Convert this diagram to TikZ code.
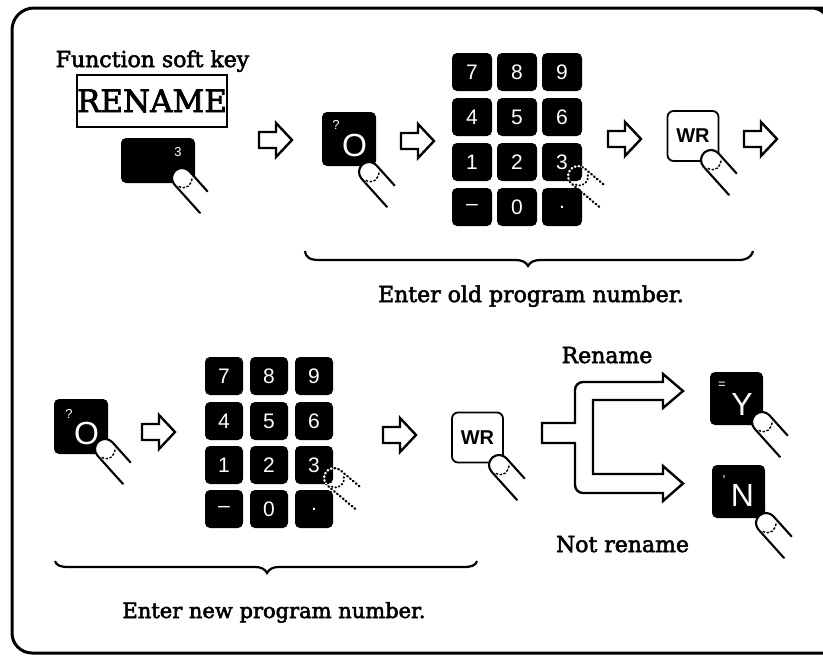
\documentclass[tikz,border=0pt]{standalone}
\usepackage{fontspec}
\setmainfont{DejaVu Serif}
\newfontfamily\capfont{DejaVu Serif}[FakeBold=2.5]
\newfontfamily\keyfont{Liberation Sans}
\usetikzlibrary{calc}
\tikzset{
  darkkey/.style={fill=black, rounded corners=5pt, inner sep=0pt, text=white,
    font=\keyfont\fontsize{21}{21}\selectfont},
  padkey/.style={darkkey, minimum width=40pt, minimum height=38pt},
  padkeyb/.style={darkkey, minimum width=38pt, minimum height=38pt},
  lightkey/.style={draw=black, line width=1.8pt, fill=white, rounded corners=6pt,
    minimum width=51pt, minimum height=50pt, inner sep=0pt,
    font=\keyfont\bfseries\fontsize{20}{20}\selectfont},
  bigchar/.style={text=white, inner sep=0pt, font=\keyfont\fontsize{32}{32}\selectfont},
  smallchar/.style={text=white, inner sep=0pt, font=\keyfont\fontsize{13}{13}\selectfont},
  caption/.style={anchor=base, inner sep=0pt, font=\capfont\fontsize{22}{22}\selectfont},
  outline/.style={line width=2.4pt, line join=miter},
  fingertip/.pic={
    \fill[white] (-10,-38) -- (-10,0) arc[start angle=180, end angle=0, radius=10pt] -- (10,-27) -- cycle;
    \draw[line width=2.1pt, line cap=round] (-10,-38) -- (-10,0)
      arc[start angle=180, end angle=0, radius=10pt] -- (10,-27);
    \draw[line width=1.4pt, dash pattern=on 2.5pt off 1.5pt] (-8,-4) .. controls (-5,-12) and (3,-12) .. (8,-6);
  },
  dotfinger/.pic={
    \draw[#1, line width=2.3pt, line cap=round, dash pattern=on 0.8pt off 3pt] (-10,-36) -- (-10,0)
      arc[start angle=180, end angle=0, radius=10pt] -- (10,-26);
    \draw[#1, line width=2pt, line cap=round, dash pattern=on 0.6pt off 3pt] (-8,-4) .. controls (-5,-12) and (3,-12) .. (8,-6);
  },
  openarrow/.pic={
    \draw[outline] (0,8) -- (17,8) -- (17,17) -- (33,0) -- (17,-17) -- (17,-8) -- (0,-8) -- cycle;
  },
}
\begin{document}
\begin{tikzpicture}[x=1pt,y=1pt]
\useasboundingbox (0,0) rectangle (823,-656);
\clip (0,0) rectangle (823,-656);

% outer frame, open on the right where it leaves the page
\draw[line width=3pt] (850,-8) -- (812,-8) to[out=0,in=90] (830,-28)
  (850,-8) -- (34,-8) to[out=180,in=90] (12,-30) -- (12,-633)
  to[out=-90,in=180] (32,-653) -- (850,-653);

% ---------- upper row: old program number ----------
\node[caption] (fsk) at (152.5,-67) {Function soft key};
\node[draw, line width=1.2pt, minimum width=150pt, minimum height=52pt, inner sep=0pt,
      font=\capfont\fontsize{31}{31}\selectfont] (rename) at (152,-101) {RENAME};

\node[darkkey, minimum width=74pt, minimum height=45pt] (softkey) at (158,-160.5) {};
\node[smallchar] (softnum) at (178,-152) {3};
\pic[rotate=42] at (182,-178) {fingertip};

\pic at (259,-140) {openarrow};

\node[darkkey, minimum width=54pt, minimum height=54pt] (oldO) at (349,-139) {};
\node[smallchar] (oldOq) at (336,-125) {?};
\node[bigchar] (oldOc) at (354.5,-145) {O};
\pic[rotate=42] at (369,-172) {fingertip};

\pic at (401,-141) {openarrow};

\node[padkey] (t7) at (472,-72) {7};
\node[padkey] (t8) at (517,-72) {8};
\node[padkey] (t9) at (562,-72) {9};
\node[padkey] (t4) at (472,-117) {4};
\node[padkey] (t5) at (517,-117) {5};
\node[padkey] (t6) at (562,-117) {6};
\node[padkey] (t1) at (472,-162) {1};
\node[padkey] (t2) at (517,-162) {2};
\node[padkey] (t3) at (562,-162) {3};
\node[padkey] (tm) at (472,-207) {–};
\node[padkey] (t0) at (517,-207) {0};
\node[padkey] (tp) at (562,-207) {.};
\pic[rotate=50] at (578,-176) {dotfinger=black};
\begin{scope}
  \clip[rounded corners=5pt] (t3.south west) rectangle (t3.north east);
  \pic[rotate=50] at (578,-176) {dotfinger=white};
\end{scope}

\pic at (608,-139) {openarrow};

\node[lightkey] (wrA) at (693,-136) {WR};
\pic[rotate=42] at (711,-160) {fingertip};

\pic at (744,-139) {openarrow};

\draw[line width=2.2pt] (305,-251) .. controls (306,-258) and (310,-260) .. (320,-260)
  -- (515,-260) .. controls (522,-260) and (526,-262) .. (528,-266)
  .. controls (530,-262) and (534,-260) .. (541,-260)
  -- (738,-260) .. controls (746,-260) and (751,-258) .. (753,-251);
\node[caption] (oldcap) at (531,-302) {Enter old program number.};

% ---------- lower row: new program number ----------
\node[darkkey, minimum width=54pt, minimum height=55pt] (newO) at (81,-426.5) {};
\node[smallchar] (newOq) at (69,-414) {?};
\node[bigchar] (newOc) at (86.5,-433.5) {O};
\pic[rotate=42] at (105,-449) {fingertip};

\pic at (142,-432) {openarrow};

\node[padkeyb] (b7) at (224,-376) {7};
\node[padkeyb] (b8) at (269,-376) {8};
\node[padkeyb] (b9) at (314,-376) {9};
\node[padkeyb] (b4) at (224,-421) {4};
\node[padkeyb] (b5) at (269,-421) {5};
\node[padkeyb] (b6) at (314,-421) {6};
\node[padkeyb] (b1) at (224,-465) {1};
\node[padkeyb] (b2) at (269,-465) {2};
\node[padkeyb] (b3) at (314,-465) {3};
\node[padkeyb] (bm) at (224,-509) {–};
\node[padkeyb] (b0) at (269,-509) {0};
\node[padkeyb] (bp) at (314,-509) {.};
\pic[rotate=50] at (334,-478) {dotfinger=black};
\begin{scope}
  \clip[rounded corners=5pt] (b3.south west) rectangle (b3.north east);
  \pic[rotate=50] at (334,-478) {dotfinger=white};
\end{scope}

\pic at (383,-435) {openarrow};

\node[lightkey] (wrB) at (477.5,-437.5) {WR};
\pic[rotate=42] at (499,-465) {fingertip};

% branching arrow: yes / no
\draw[outline] (542,-423) -- (575,-423) -- (575,-390) to[out=90,in=180] (583,-382)
  -- (663,-382) -- (663,-374) -- (683,-391) -- (663,-408) -- (663,-400)
  -- (593,-400) -- (593,-474) -- (663,-474) -- (663,-466) -- (683,-483.5)
  -- (663,-501) -- (663,-493) -- (583,-493) to[out=180,in=-90] (575,-485)
  -- (575,-443) -- (542,-443) -- cycle;
\node[caption] (yescap) at (607,-363) {Rename};
\node[caption] (nocap) at (622.5,-552) {Not rename};

\node[darkkey, minimum width=53pt, minimum height=53pt] (ykey) at (736.5,-398.5) {};
\node[smallchar] (yeq) at (722,-385) {=};
\node[bigchar] (ychar) at (742,-404) {Y};
\pic[rotate=42] at (762,-422) {fingertip};

\node[darkkey, minimum width=53pt, minimum height=53pt] (nkey) at (738.5,-491.5) {};
\node[smallchar] (nap) at (724,-480) {'};
\node[bigchar] (nchar) at (742.5,-495.5) {N};
\pic[rotate=42] at (766,-523) {fingertip};

\draw[line width=2.2pt] (55,-561) .. controls (56,-565) and (60,-567) .. (68,-567)
  -- (255,-567) .. controls (261,-567) and (265,-569) .. (267,-573)
  .. controls (269,-569) and (273,-567) .. (279,-567)
  -- (464,-567) .. controls (472,-567) and (476,-565) .. (477,-561);
\node[caption, font=\capfont\fontsize{21}{21}\selectfont] (newcap) at (274,-618) {Enter new program number.};
\end{tikzpicture}
\end{document}
